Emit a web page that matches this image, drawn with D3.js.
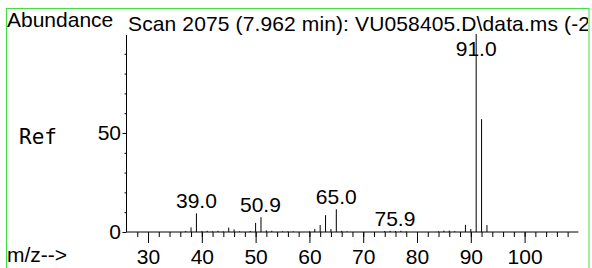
<!DOCTYPE html>
<html>
<head>
<meta charset="utf-8">
<script src="https://cdn.jsdelivr.net/npm/d3@7"></script>
<style>
  html, body { margin: 0; padding: 0; background: #fff; }
  svg { display: block; }
  text { font-family: "Liberation Sans", Arial, sans-serif; fill: #000; }
</style>
</head>
<body>
<script>
// ---- data ----
const mzValues = [37, 38, 39, 40, 41, 42, 43, 44, 45, 46, 47, 49, 50, 51, 52, 53, 55, 56, 57, 60,
                  61, 62, 63, 64, 65, 66, 67, 74, 75, 76, 77, 78, 84, 85, 86, 87, 89, 90, 91, 92, 93];
const abundances = [0.5, 2.3, 9.4, 0.4, 0.6, 0.3, 0.6, 0.3, 2.2, 1.3, 0.3, 0.5, 4.6, 7.5, 0.8, 0.6, 0.3, 0.3, 0.3, 0.3,
                    1.5, 3.5, 8.5, 1.5, 11.5, 0.6, 0.3, 0.5, 0.6, 0.5, 0.6, 0.3, 0.3, 0.7, 0.7, 0.4, 3.6, 1.5, 100, 57, 3.5];
const peakLabels = ["39.0", "50.9", "65.0", "75.9", "91.0"];
const peakLabelMz = [39.0, 50.9, 65.0, 75.9, 91.0];
const peakLabelHeight = [9.4, 7.5, 11.5, 0.5, 100];
const xMajorTicks = [30, 40, 50, 60, 70, 80, 90, 100];
const xMinorTicks = d3.range(28, 110, 2);
const yMajorTicks = [0, 50];
const yMinorTicks = [10, 20, 30, 40, 60, 70, 80, 90];
const titleText = "Scan 2075 (7.962 min): VU058405.D\\data.ms (-2";

// ---- layout ----
const W = 592, H = 268;
const svg = d3.select("body").append("svg").attr("width", W).attr("height", H);

const x = d3.scaleLinear().domain([26, 110]).range([126.5, 578.4]);
const y = d3.scaleLinear().domain([0, 100]).range([232, 34]);

svg.append("defs").append("clipPath").attr("id", "frame")
  .append("rect").attr("x", 6).attr("y", 8).attr("width", 582).attr("height", 300);

svg.append("rect").attr("x", 6.5).attr("y", 8.5).attr("width", 582.5).attr("height", 300)
  .attr("fill", "none").attr("stroke", "#3fe03f").attr("stroke-width", 1);

const g = svg.append("g").attr("clip-path", "url(#frame)");

g.append("text").attr("x", 7).attr("y", 27).attr("font-size", 21).text("Abundance");
g.append("text").attr("x", 128).attr("y", 30.5).attr("font-size", 21)
  .attr("textLength", 462).attr("lengthAdjust", "spacing").text(titleText);
g.append("text").attr("x", 19).attr("y", 143.5).attr("font-size", 21)
  .style("font-family", "'DejaVu Sans Mono', monospace").text("Ref");
g.append("text").attr("x", 7).attr("y", 262).attr("font-size", 21).text("m/z-->");

// y axis line
g.append("line").attr("x1", x(26)).attr("x2", x(26)).attr("y1", y(100) + 1).attr("y2", y(0))
  .attr("stroke", "#000");

// x axis
const xMinor = d3.axisBottom(x).tickValues(xMinorTicks).tickSize(5).tickFormat("");
const xMajor = d3.axisBottom(x).tickValues(xMajorTicks).tickSize(11).tickPadding(6).tickFormat(d3.format("d"));
const gxMinor = g.append("g").attr("transform", `translate(0,${y(0)})`).call(xMinor);
const gxMajor = g.append("g").attr("transform", `translate(0,${y(0)})`).call(xMajor);
[gxMinor, gxMajor].forEach(a => {
  a.select(".domain").remove();
  a.selectAll("line").attr("stroke", "#000");
  a.selectAll("text").attr("font-size", 21).style("font-family", "'Liberation Sans', Arial, sans-serif").attr("fill", "#000");
});
g.append("line").attr("x1", x(26)).attr("x2", x(110)).attr("y1", y(0)).attr("y2", y(0)).attr("stroke", "#000");

// y axis ticks
const yMinor = d3.axisLeft(y).tickValues(yMinorTicks).tickSize(2).tickFormat("");
const yMajor = d3.axisLeft(y).tickValues(yMajorTicks).tickSize(4).tickPadding(1.5).tickFormat(d3.format("d"));
[yMinor, yMajor].forEach(ax => {
  const a = g.append("g").attr("transform", `translate(${x(26)},0)`).call(ax);
  a.select(".domain").remove();
  a.selectAll("line").attr("stroke", "#000");
  a.selectAll("text").attr("font-size", 21).style("font-family", "'Liberation Sans', Arial, sans-serif").attr("fill", "#000");
});

// peaks
g.append("g").selectAll("line").data(mzValues).join("line")
  .attr("x1", d => x(d)).attr("x2", d => x(d))
  .attr("y1", y(0)).attr("y2", (d, i) => y(abundances[i]))
  .attr("stroke", "#000").attr("stroke-width", 1);

// peak labels
g.append("g").selectAll("text").data(peakLabels).join("text")
  .attr("x", (d, i) => x(peakLabelMz[i]))
  .attr("y", (d, i) => Math.max(y(peakLabelHeight[i]) - 5.5, 56))
  .attr("text-anchor", "middle").attr("font-size", 21)
  .text(d => d);
</script>
</body>
</html>
